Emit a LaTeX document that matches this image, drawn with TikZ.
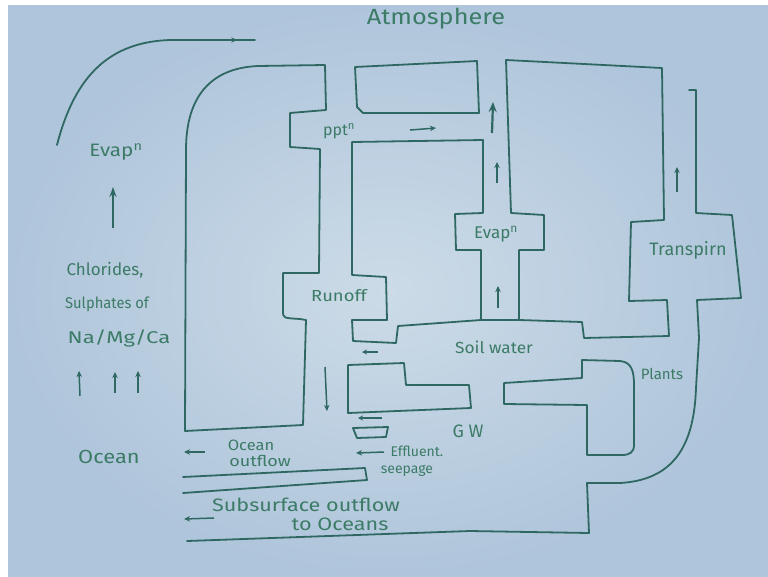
\documentclass[tikz,border=0pt]{standalone}
\usepackage{fontspec}
\usepackage{graphicx}
\setmainfont{Fira Sans}
\usetikzlibrary{arrows.meta,decorations.markings}
\definecolor{boardmid}{HTML}{CCDBE7}
\definecolor{boardedge}{HTML}{AFC5DB}
\definecolor{ink}{HTML}{2F6862}
\definecolor{txt}{HTML}{3C7B66}
\newcommand{\hw}[2][1.15]{\scalebox{#1}[1]{#2}}
\begin{document}
\begin{tikzpicture}[x=1pt,y=-1pt,
  wall/.style={draw=ink,line width=1.8pt,line join=round,line cap=round},
  flow/.style={draw=ink,line width=1.5pt,-{Stealth[length=6pt,width=5.5pt]}},
  bigflow/.style={draw=ink,line width=2.2pt,-{Stealth[length=10pt,width=8pt]}},
  lbl/.style={text=txt,inner sep=0pt,anchor=center}]
\useasboundingbox (0,0) rectangle (768,576);
\fill[white] (0,0) rectangle (768,576);
\shade[inner color=boardmid,outer color=boardedge] (8,5) rectangle (768,576);

% top-left evaporation curve
\draw[wall,postaction={decorate},decoration={markings,mark=at position 0.93 with {\arrow{Stealth[length=6pt,width=5pt]}}}]
  (57,145) .. controls (75,75) and (110,42) .. (170,40) -- (255,40);

% A: left land block
\draw[wall] (185,431) -- (186,150) .. controls (186,95) and (212,68) .. (258,66) -- (325,65)
  -- (326,110) -- (290,113) -- (290,147) -- (320,149) -- (319,273) -- (283,273)
  -- (283,311) .. controls (283,318) .. (300,319) -- (306,320) -- (303,425) -- cycle;
% B: top box
\draw[wall] (355,67) -- (477,61) -- (479,113) -- (363,113) -- (357,107) -- cycle;
% C: middle block
\draw[wall] (352,142) -- (483,140) -- (483,213) -- (455,214) -- (456,250) -- (481,250)
  -- (481,320) -- (398,326) -- (396,343) -- (353,341) -- (352,320) -- (387,320)
  -- (386,277) -- (352,275) -- cycle;
\draw[wall] (481,320) -- (519,320);
% D: right block
\draw[wall] (506,60) -- (662,68) -- (664,220) -- (631,222) -- (629,301) -- (667,300)
  -- (669,336) -- (584,338) -- (582,322) -- (519,320) -- (519,250) -- (544,250)
  -- (544,215) -- (511,213) -- cycle;
% E: transpiration wall and subsurface bottom
\draw[wall] (689,90) -- (696,90) -- (696,213) -- (732,215) -- (741,298) -- (697,300)
  -- (699,338) -- (696,388) .. controls (694,448) and (672,480) .. (620,483)
  -- (587,483) -- (589,533) -- (470,531) -- (187,541);
% F: plants block
\draw[wall] (504,383) -- (582,378) -- (582,360) -- (620,361) .. controls (632,362) and (634,372) .. (634,385)
  -- (634,445) .. controls (634,452) and (630,455) .. (622,455) -- (587,455) -- (587,405) -- (504,404) -- cycle;
% G: GW left block
\draw[wall] (348,365) -- (404,363) -- (406,385) -- (469,385) -- (471,408) -- (348,413) -- cycle;
% H: small block
\draw[wall] (353,428) -- (388,427) -- (386,437) -- (357,438) -- cycle;
% I: ocean outflow bar
\draw[wall] (183,477) -- (365,468) -- (367,480) -- (183,493);

% arrows
\coordinate (e1a) at (113,228); \coordinate (e1b) at (113,187);
\draw[flow,line width=1.7pt,-{Stealth[length=10pt,width=7pt]}] (e1a) -- (e1b);
\coordinate (s1a) at (80,396); \coordinate (s1b) at (79,371);
\coordinate (s2a) at (115,393); \coordinate (s2b) at (115,372);
\coordinate (s3a) at (138,393); \coordinate (s3b) at (138,371);
\draw[flow] (s1a) -- (s1b);
\draw[flow] (s2a) -- (s2b);
\draw[flow] (s3a) -- (s3b);
\coordinate (pa) at (410,130); \coordinate (pb) at (436,128);
\draw[flow] (pa) -- (pb);
\coordinate (ba) at (492,133); \coordinate (bb) at (493,102);
\draw[bigflow] (ba) -- (bb);
\coordinate (va) at (497,183); \coordinate (vb) at (497,162);
\draw[flow] (va) -- (vb);
\coordinate (wa) at (498,308); \coordinate (wb) at (498,286);
\draw[flow] (wa) -- (wb);
\coordinate (ta) at (677,192); \coordinate (tb) at (677,167);
\draw[flow] (ta) -- (tb);
\coordinate (ra) at (325,367); \coordinate (rb) at (327,411);
\draw[flow] (ra) -- (rb);
\coordinate (ia) at (378,352); \coordinate (ib) at (362,352);
\draw[flow,-{Stealth[length=5pt,width=5pt]}] (ia) -- (ib);
\coordinate (ga) at (382,418); \coordinate (gb) at (358,418);
\draw[flow,-{Stealth[length=5pt,width=5pt]}] (ga) -- (gb);
\coordinate (fa) at (384,452); \coordinate (fb) at (356,453);
\draw[flow] (fa) -- (fb);
\coordinate (oa) at (205,452); \coordinate (ob) at (184,452);
\draw[flow] (oa) -- (ob);
\coordinate (ua) at (214,518); \coordinate (ub) at (184,519);
\draw[flow] (ua) -- (ub);

% labels
\node[lbl,font=\fontsize{22}{24}\selectfont] (atm) at (436,19) {\hw{Atmosphere}};
\node[lbl,font=\fontsize{18}{20}\selectfont] (evl) at (116,152) {\hw{Evap\textsuperscript{n}}};
\node[lbl,font=\fontsize{17}{19}\selectfont] (chl) at (105,270) {\hw[1.0]{Chlorides,}};
\node[lbl,font=\fontsize{15.5}{17}\selectfont] (sul) at (107,304) {\hw[0.95]{Sulphates of}};
\node[lbl,font=\fontsize{17}{19}\selectfont] (nmc) at (119,338) {\hw[1.3]{Na/Mg/Ca}};
\node[lbl,font=\fontsize{19}{21}\selectfont] (ocl) at (109,457) {\hw{Ocean}};
\node[lbl,font=\fontsize{16}{18}\selectfont] (ppt) at (339,131) {\hw[1.0]{ppt\textsuperscript{n}}};
\node[lbl,font=\fontsize{17}{19}\selectfont] (evb) at (496,234) {\hw[1.0]{Evap\textsuperscript{n}}};
\node[lbl,font=\fontsize{18}{20}\selectfont] (trn) at (688,250) {\hw[1.0]{Transpirn}};
\node[lbl,font=\fontsize{16}{18}\selectfont] (run) at (339,296) {\hw{Runoff}};
\node[lbl,font=\fontsize{16}{18}\selectfont] (soil) at (494,347) {\hw[1.08]{Soil water}};
\node[lbl,font=\fontsize{15}{17}\selectfont] (plt) at (662,374) {\hw[1.0]{Plants}};
\node[lbl,font=\fontsize{18}{20}\selectfont] (gw) at (468,431) {\hw[1.0]{G W}};
\node[lbl,font=\fontsize{14}{16}\selectfont] (eff) at (417,451) {\hw[1.0]{Effluent.}};
\node[lbl,font=\fontsize{14}{16}\selectfont] (see) at (407,471) {\hw[1.0]{seepage}};
\node[lbl,font=\fontsize{15}{17}\selectfont] (oc1) at (251,445) {\hw[1.1]{Ocean}};
\node[lbl,font=\fontsize{15}{17}\selectfont] (oc2) at (260,461) {\hw[1.2]{outflow}};
\node[lbl,font=\fontsize{18}{20}\selectfont] (sub1) at (306,505) {\hw[1.2]{Subsurface outflow}};
\node[lbl,font=\fontsize{18}{20}\selectfont] (sub2) at (340,524) {\hw[1.2]{to Oceans}};
\end{tikzpicture}
\end{document}
